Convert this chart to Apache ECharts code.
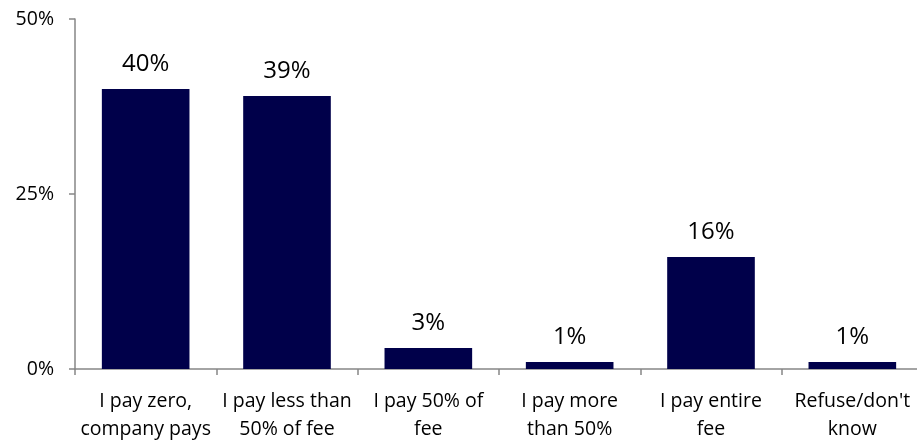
<!DOCTYPE html>
<html><head><meta charset="utf-8">
<script src="https://cdn.jsdelivr.net/npm/echarts@6/dist/echarts.min.js"></script>
<style>html,body{margin:0;padding:0;background:#fff}#c{width:917px;height:440px}</style>
</head><body><div id="c"></div>
<script>
const categories = ["I pay zero,\ncompany pays","I pay less than\n50% of fee","I pay 50% of\nfee","I pay more\nthan 50%","I pay entire\nfee","Refuse/don't\nknow"];
const values = [40,39,3,1,16,1];
const yTicks = [0,25,50];
const font = "'Open Sans', 'Liberation Sans', sans-serif";
const chart = echarts.init(document.getElementById('c'));
chart.setOption({
  animation:false,
  grid:{left:75,top:19,width:848,height:350,containLabel:false,outerBoundsMode:'none'},
  xAxis:{type:'category',data:categories,
    axisLine:{lineStyle:{color:'#868686',width:1.5}},
    axisTick:{show:true,length:6,lineStyle:{color:'#868686',width:1.5}},
    axisLabel:{interval:0,color:'#000',fontFamily:font,fontSize:19.5,lineHeight:28,margin:18}},
  yAxis:{type:'value',min:0,max:50,interval:25,
    axisLine:{show:true,lineStyle:{color:'#868686',width:1.5}},
    axisTick:{show:true,length:6,lineStyle:{color:'#868686',width:1.5}},
    splitLine:{show:false},
    axisLabel:{formatter:v=>v+'%',color:'#000',fontFamily:font,fontSize:19.5,margin:21}},
  series:[{type:'bar',data:values,barWidth:'62%',
    itemStyle:{color:'#00004a'},
    label:{show:true,position:'top',distance:13,formatter:p=>p.value+'%',color:'#000',fontFamily:font,fontSize:24}}]
});
</script></body></html>
